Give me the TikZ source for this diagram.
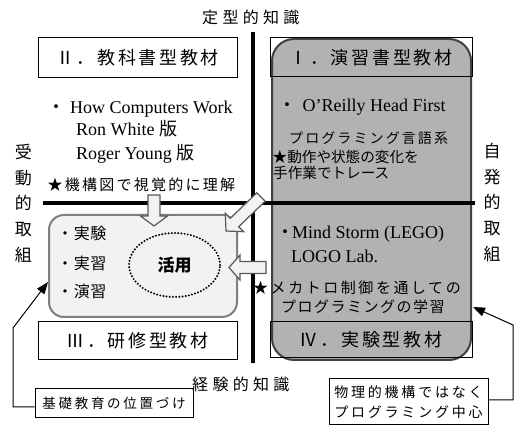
\documentclass[tikz,border=0pt]{standalone}
\usepackage{fontspec}
\setmainfont{Liberation Serif}
\newfontfamily\cjk{Noto Sans CJK JP}
\newfontfamily\cjkD[LetterSpace=4]{Noto Sans CJK JP}
\newfontfamily\cjkE[LetterSpace=10]{Noto Sans CJK JP}
\newfontfamily\cjkF[LetterSpace=15]{Noto Sans CJK JP}
\newfontfamily\cjkG[LetterSpace=17]{Noto Sans CJK JP}
\newfontfamily\cjkH[LetterSpace=20]{Noto Sans CJK JP}
\newfontfamily\cjkI[LetterSpace=27]{Noto Sans CJK JP}
\usetikzlibrary{shapes.geometric,arrows.meta}
\definecolor{panelgray}{RGB}{178,178,178}
\definecolor{paneledge}{RGB}{64,64,64}
\definecolor{lightfill}{RGB}{242,242,242}
\definecolor{lightedge}{RGB}{127,127,127}
\definecolor{arrowedge}{RGB}{89,89,89}
\begin{document}
\begin{tikzpicture}[x=1pt,y=-1pt,
  txt/.style={inner sep=0pt, anchor=base west},
  latin/.style={font=\fontsize{18}{20}\selectfont},
  titlebox/.style={draw=black, line width=1pt, inner sep=0pt, font=\fontsize{18}{20}\cjkF},
  note/.style={draw=black, line width=1pt, inner sep=0pt, align=center},
  blockarrow/.style={fill=lightfill, draw=arrowedge, line width=1.2pt, line join=miter},
  axisline/.style={line width=3.5pt},
  conn/.style={line width=1pt, -{Triangle[length=12pt,width=9pt]}},
]
\fill[white] (0,0) rectangle (515,427);
\useasboundingbox (0,0) rectangle (515,427);

% gray panel (I / IV)
\draw[fill=panelgray, draw=paneledge, line width=2pt, rounded corners=22pt] (272,39) rectangle (471,360);
\node[titlebox, minimum width=202pt, minimum height=39pt] (ensyu) at (371,57.5) {Ⅰ．演習書型教材};
\node[titlebox, minimum width=202pt, minimum height=36pt] (jikkengata) at (371,340) {Ⅳ．実験型教材};

% left title boxes
\node[titlebox, minimum width=199pt, minimum height=40pt] (kyokasho) at (137.5,58) {Ⅱ．教科書型教材};
\node[titlebox, minimum width=199pt, minimum height=38pt] (kenshu) at (137.5,341) {Ⅲ．研修型教材};

% axes
\coordinate (vtop) at (253,32);
\coordinate (vbot) at (253,363);
\coordinate (hleft) at (43,203);
\coordinate (hright) at (475,203);
\draw[axisline] (vtop) -- (vbot);
\draw[axisline] (hleft) -- (hright);

% axis labels
\node[txt, font=\fontsize{16}{18}\cjkI] (teikei) at (202,24) {定型的知識};
\node[txt, font=\fontsize{16}{18}\cjkI] (keiken) at (192,391) {経験的知識};
\node[inner sep=0pt, align=center, font=\fontsize{17}{25.7}\cjk] (judou) at (23.5,203.5) {受\\動\\的\\取\\組};
\node[inner sep=0pt, align=center, font=\fontsize{17}{25.7}\cjk] (jihatsu) at (492,202.5) {自\\発\\的\\取\\組};

% upper left texts
\node[txt, latin] (how) at (47,113.5) {{\cjk ・}\hspace{5pt}How Computers Work};
\node[txt, latin] (ron) at (76,136) {Ron White {\cjk 版}};
\node[txt, latin] (roger) at (76,160) {Roger Young {\cjk 版}};
\node[txt, font=\fontsize{15}{18}\cjkF] (kikou) at (47.5,191) {★機構図で視覚的に理解};

% upper right texts
\node[txt, latin] (oreilly) at (278.5,112) {{\cjk ・}\hspace{6pt}O’Reilly Head First};
\node[txt, font=\fontsize{14}{16}\cjkF] (gengo) at (289,144) {プログラミング言語系};
\node[txt, font=\fontsize{14.6}{16}\cjk] (dousa) at (272.5,163) {★動作や状態の変化を};
\node[txt, font=\fontsize{14.6}{16}\cjk] (tesagyou) at (273,179) {手作業でトレース};

% lower right texts
\node[txt, latin] (mind) at (276,238.5) {{\cjk ・}\hspace{-2pt}Mind Storm (LEGO)};
\node[txt, latin] (logo) at (291,263) {LOGO Lab.};
\node[txt, font=\fontsize{15}{18}\cjkG] (meka) at (253,294) {★メカトロ制御を通しての};
\node[txt, font=\fontsize{15}{18}\cjkE] (gakushu) at (281,313) {プログラミングの学習};

% inner box (III)
\node[draw=lightedge, fill=lightfill, line width=2pt, rounded corners=15pt,
      minimum width=188pt, minimum height=102pt] (inner) at (143,266) {};
\node[txt, font=\fontsize{16}{18}\cjkD] (jikken) at (57,239.5) {・実験};
\node[txt, font=\fontsize{16}{18}\cjkD] (jisshu) at (57,269.5) {・実習};
\node[txt, font=\fontsize{16}{18}\cjkD] (enshu) at (57,298) {・演習};
\node[ellipse, draw=black, line width=2.2pt, line cap=round, dash pattern=on 0pt off 3.2pt,
      minimum width=91pt, minimum height=64pt, inner sep=0pt,
      font=\fontsize{17}{20}\cjk\bfseries] (katsuyo) at (174.5,265) {活用};

% block arrows
\draw[blockarrow] (148,195) -- (160,195) -- (160,216) -- (167.5,216) -- (154,226)
  -- (140.5,216) -- (148,216) -- cycle;
\draw[blockarrow] (226,231) -- (243.7,231.7) -- (238.7,226.7) -- (265.2,201.2)
  -- (256.8,192.8) -- (230.3,218.3) -- (225.3,213.3) -- cycle;
\draw[blockarrow] (266,261.5) -- (240,261.5) -- (240,255) -- (229,267.5)
  -- (240,280) -- (240,273.5) -- (266,273.5) -- cycle;

% note boxes and connectors
\node[note, minimum width=158pt, minimum height=29pt, font=\fontsize{13.5}{16}\cjkH] (kiso) at (114,403) {基礎教育の位置づけ};
\node[note, minimum width=159pt, minimum height=46pt, font=\fontsize{14}{20}\cjkH] (butsuri) at (408.5,402) {物理的機構ではなく\\プログラミング中心};

\coordinate (lb) at (13,407);
\coordinate (lt) at (13,328);
\coordinate (ltip) at (48,282);
\draw[conn] (kiso.west |- lb) -- (lb) -- (lt) -- (ltip);
\coordinate (rb) at (513,400);
\coordinate (rt) at (513,325);
\coordinate (rtip) at (473,307);
\draw[conn] (butsuri.east |- rb) -- (rb) -- (rt) -- (rtip);
\end{tikzpicture}
\end{document}
